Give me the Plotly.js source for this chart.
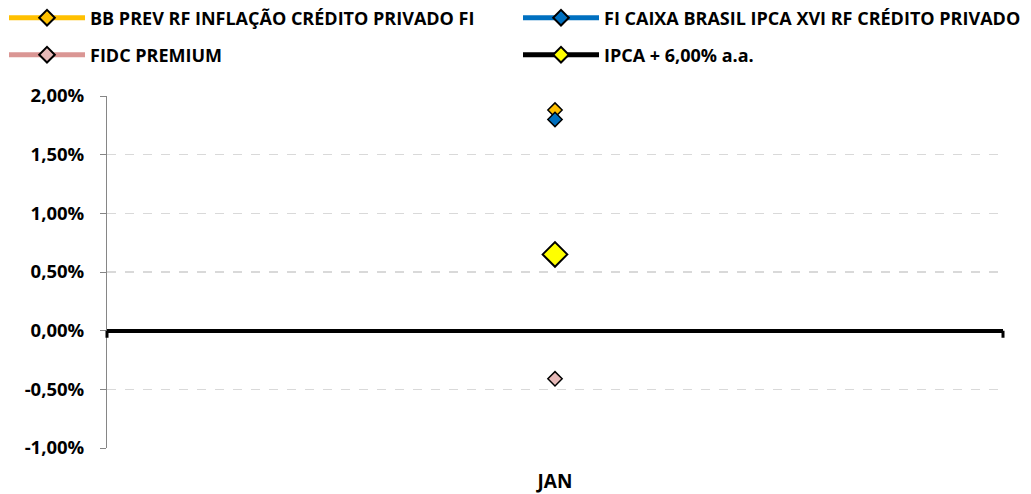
<!DOCTYPE html>
<html>
<head>
<meta charset="utf-8">
<script src="https://cdn.plot.ly/plotly-3.0.1.min.js"></script>
<style>html,body{margin:0;padding:0;background:#fff}#chart{width:1031px;height:494px}</style>
</head>
<body>
<div id="chart"></div>
<script>
const categories = ["JAN"];
const seriesNames = ["BB PREV RF INFLAÇÃO CRÉDITO PRIVADO FI", "FI CAIXA BRASIL IPCA XVI RF CRÉDITO PRIVADO", "FIDC PREMIUM", "IPCA + 6,00% a.a."];
const bbPrev = [1.88];
const caixa = [1.80];
const fidc = [-0.41];
const ipca = [0.65];
const yTickVals = [-1, -0.5, 0, 0.5, 1, 1.5, 2];
const yTickText = ["-1,00%", "-0,50%", "0,00%", "0,50%", "1,00%", "1,50%", "2,00%"];

const FONT = "'Open Sans', sans-serif";

function tr(name, y, lineColor, fill, size, lw, legend) {
  return {
    type: "scatter", mode: "lines+markers", x: categories, y: y, name: name,
    line: {color: lineColor, width: 6},
    marker: {symbol: "diamond", size: size, color: fill, line: {color: "#000", width: lw}},
    legend: legend, cliponaxis: false
  };
}

const data = [
  tr(seriesNames[0], bbPrev, "#FFC000", "#FFC000", 11, 1.5, "legend"),
  tr(seriesNames[1], caixa, "#0070C0", "#0070C0", 11, 1.5, "legend2"),
  tr(seriesNames[2], fidc, "#DA9694", "#E6B9B8", 11, 1.5, "legend3"),
  tr(seriesNames[3], ipca, "#000000", "#FFFF00", 19, 2, "legend4")
];

const legendCommon = {
  orientation: "h", xanchor: "left", yanchor: "middle",
  font: {family: FONT, size: 18, color: "#000", weight: 700},
  itemwidth: 76,
  bgcolor: "rgba(0,0,0,0)", itemsizing: "constant", itemclick: false
};
function px2x(p) { return (p - 107) / 896; }
function py2y(p) { return (448 - p) / 352; }

const layout = {
  width: 1031, height: 494,
  margin: {l: 107, r: 28, t: 96, b: 46, autoexpand: false},
  paper_bgcolor: "#fff", plot_bgcolor: "#fff",
  showlegend: true,
  legend: Object.assign({}, legendCommon, {x: px2x(4), y: py2y(18)}),
  legend2: Object.assign({}, legendCommon, {x: px2x(518), y: py2y(18)}),
  legend3: Object.assign({}, legendCommon, {x: px2x(4), y: py2y(55)}),
  legend4: Object.assign({}, legendCommon, {x: px2x(518), y: py2y(55)}),
  xaxis: {
    type: "category", range: [-0.5, 0.5],
    showgrid: false, zeroline: false, showline: false, ticks: "",
    tickfont: {family: FONT, size: 19, color: "#000", weight: 700},
    ticklabelstandoff: 20, fixedrange: true
  },
  yaxis: {
    range: [-1, 2], tickvals: yTickVals, ticktext: yTickText,
    showgrid: true, gridcolor: "#D9D9D9", griddash: "dash", gridwidth: 1.5,
    zeroline: true, zerolinecolor: "#000", zerolinewidth: 4,
    showline: true, linecolor: "#868686", linewidth: 1,
    ticks: "outside", ticklen: 6, tickcolor: "#868686",
    tickfont: {family: FONT, size: 18.5, color: "#000", weight: 700},
    ticklabelstandoff: 12,
    fixedrange: true
  },
  shapes: [
    {type: "rect", xref: "paper", yref: "y", x0: 0, x1: 0, xsizemode: "pixel", xanchor: 0,
     ysizemode: "pixel", yanchor: 0, y0: 0, y1: -7, fillcolor: "#000", line: {color: "#000", width: 3}, layer: "above"},
    {type: "rect", xref: "paper", yref: "y", x0: 0, x1: 0, xsizemode: "pixel", xanchor: 1,
     ysizemode: "pixel", yanchor: 0, y0: 0, y1: -7, fillcolor: "#000", line: {color: "#000", width: 3}, layer: "above"}
  ]
};

Plotly.newPlot("chart", data, layout, {displayModeBar: false, staticPlot: true});
</script>
</body>
</html>
